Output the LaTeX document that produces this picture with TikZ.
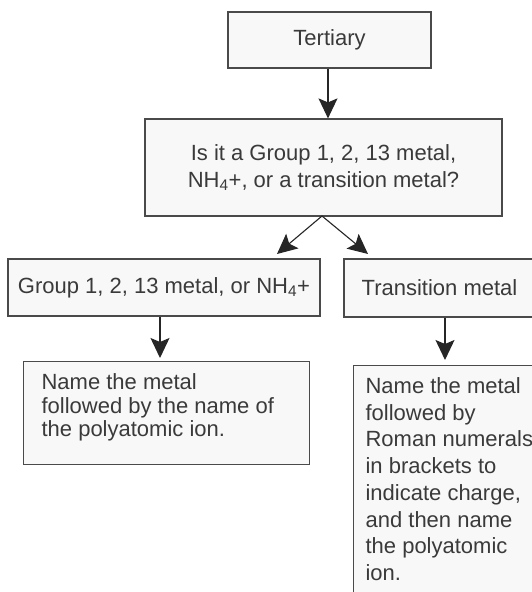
\documentclass[tikz,border=0pt]{standalone}
\usepackage{fontspec}
\setmainfont{Liberation Sans}
\usetikzlibrary{arrows.meta}
\definecolor{ink}{HTML}{3A3A3A}
\definecolor{edge}{HTML}{4A4A4A}
\definecolor{boxfill}{HTML}{F8F8F8}
\begin{document}
\begin{tikzpicture}[x=1pt,y=1pt,
  box/.style={draw=edge, line width=1.2pt, fill=boxfill, rectangle, inner sep=0pt,
    text=ink, font=\fontsize{22}{27}\selectfont},
  flow/.style={draw=black!85, line width=1.1pt,
    -{Stealth[length=20pt,width=19pt,inset=4pt]}}]
\clip (0,0) rectangle (532,592);
\fill[white] (0,0) rectangle (532,592);

% top of the chart
\node[box, minimum width=203pt, minimum height=56pt] (tert) at (329.5,552) {Tertiary};
\node[box, minimum width=357pt, minimum height=97pt, align=center] (ask) at (323.5,424.5)
  {Is it a Group 1, 2, 13 metal,\\NH\textsubscript{4}+, or a transition metal?};

% the two branches
\node[box, minimum width=312pt, minimum height=57pt] (grp) at (164,304.5)
  {Group 1, 2, 13 metal, or NH\textsubscript{4}+};
\node[box, minimum width=191pt, minimum height=58pt] (trans) at (439.5,304)
  {Transition metal};

% naming rules
\node[box, anchor=north west] (ruleA) at (23,231)
  {\parbox[t][103pt][t]{286pt}{\fontsize{22}{23.5}\selectfont\raggedright\leftskip=18pt
   \rule{0pt}{28pt}Name the metal\\followed by the name of\\the polyatomic ion.}};
\node[box, anchor=north west] (ruleB) at (353,227)
  {\parbox[t][250pt][t]{200pt}{\fontsize{22}{26.7}\selectfont\raggedright\leftskip=12pt
   \rule{0pt}{28pt}Name the metal\\followed by\\Roman numerals\\in brackets to\\indicate charge,\\and then name\\the polyatomic\\ion.}};

% arrow end points just above the branch boxes
\coordinate (tipA) at (277,338);
\coordinate (tipB) at (368,338);
\coordinate (forkTop) at (322,376);

\draw[flow] (tert.south -| 328,0) -- (ask.north -| 328,0);
\draw[flow] (forkTop) -- (tipA);
\draw[flow] (forkTop) -- (tipB);
\draw[flow] (grp.south -| 160,0) -- ([yshift=3pt]ruleA.north -| 160,0);
\draw[flow] (trans.south -| 445,0) -- ([yshift=5pt]ruleB.north -| 445,0);
\end{tikzpicture}
\end{document}
